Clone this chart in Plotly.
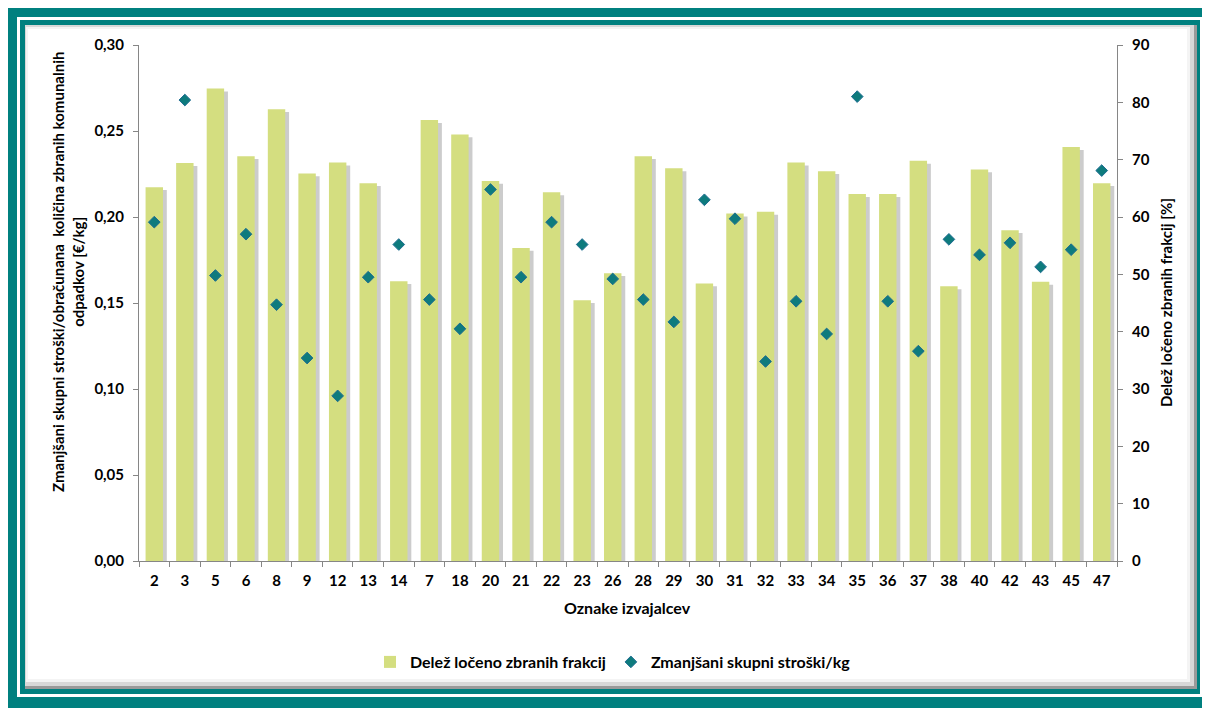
import plotly.graph_objects as go

## DATA
izvajalci = ["2", "3", "5", "6", "8", "9", "12", "13", "14", "7", "18", "20", "21", "22", "23", "26",
             "28", "29", "30", "31", "32", "33", "34", "35", "36", "37", "38", "40", "42", "43", "45", "47"]
delez = [65.2, 69.4, 82.4, 70.6, 78.8, 67.6, 69.5, 65.9, 48.8, 76.9, 74.4, 66.3, 54.6, 64.3, 45.5, 50.2,
         70.6, 68.5, 48.4, 60.6, 60.9, 69.5, 68.0, 64.0, 64.0, 69.8, 47.9, 68.3, 57.7, 48.7, 72.2, 65.9]
stroski = [0.197, 0.268, 0.166, 0.190, 0.149, 0.118, 0.096, 0.165, 0.184, 0.152, 0.135, 0.216, 0.165, 0.197,
           0.184, 0.164, 0.152, 0.139, 0.210, 0.199, 0.116, 0.151, 0.132, 0.270, 0.151, 0.122, 0.187, 0.178,
           0.185, 0.171, 0.181, 0.227]

## LAYOUT CONSTANTS
# the page body has an 8px margin, so the figure is 8px smaller than the window
BODY = 8
W, H = 1210 - BODY, 711 - BODY
ML, MT = 139 - BODY, 45 - BODY
plot_w, plot_h = 978, 516
MR, MB = W - ML - plot_w, H - MT - plot_h
TEAL = "#00807f"
GREEN = "#d4de80"
DIAMOND = "#0e7b7d"
AXIS = "#868686"
FONT = "Lato"

def px(x):  # window pixel -> paper x
    return (x - BODY - ML) / plot_w

def py(y):  # window pixel -> paper y
    return (H - MB - (y - BODY)) / plot_h

fig = go.Figure()

# soft shadow to the right of each bar
fig.add_trace(go.Bar(x=izvajalci, y=[v - 0.5 for v in delez], yaxis="y",
                     width=0.57, offset=-0.16, marker=dict(color="rgba(110,110,110,0.35)", line_width=0),
                     showlegend=False, hoverinfo="skip"))
fig.add_trace(go.Bar(x=izvajalci, y=delez, yaxis="y", name="Delež ločeno zbranih frakcij",
                     width=0.57, offset=-0.285, marker=dict(color=GREEN, line_width=0)))
fig.add_trace(go.Scatter(x=izvajalci, y=stroski, yaxis="y2", mode="markers",
                         name="Zmanjšani skupni stroški/kg",
                         marker=dict(symbol="diamond", size=9, color=DIAMOND,
                                     line=dict(color="#1f6d92", width=1))))

tickfont = dict(family=FONT, size=15, color="#000000", weight="bold")
titlefont = dict(family=FONT, size=15, color="#000000", weight="bold")

## FRAME
shapes = [
    dict(type="rect", xref="paper", yref="paper", x0=px(7), x1=px(1212), y0=py(708), y1=py(6),
         fillcolor=TEAL, line_width=0, layer="below"),
    dict(type="rect", xref="paper", yref="paper", x0=px(17), x1=px(1203), y0=py(697), y1=py(17),
         fillcolor="white", line_width=0, layer="below"),
    dict(type="rect", xref="paper", yref="paper", x0=px(20), x1=px(1200), y0=py(694), y1=py(20),
         fillcolor=TEAL, line_width=0, layer="below"),
    dict(type="rect", xref="paper", yref="paper", x0=px(25), x1=px(1197), y0=py(689), y1=py(25),
         fillcolor="#9a9a9a", line_width=0, layer="below"),
    dict(type="rect", xref="paper", yref="paper", x0=px(25), x1=px(1194), y0=py(686), y1=py(25),
         fillcolor="#d8d8d8", line_width=0, layer="below"),
    dict(type="rect", xref="paper", yref="paper", x0=px(26), x1=px(1190), y0=py(682), y1=py(27),
         fillcolor="#f4f4f4", line_width=0, layer="below"),
    dict(type="rect", xref="paper", yref="paper", x0=px(28), x1=px(1187), y0=py(679), y1=py(29),
         fillcolor="white", line_width=0, layer="below"),
]

annotations = [
    dict(text="Zmanjšani skupni stroški/obračunana  količina zbranih komunalnih<br>odpadkov [€/kg]",
         xref="paper", yref="paper", x=px(68), y=py(272), xanchor="center", yanchor="middle",
         textangle=-90, showarrow=False, font=titlefont, align="center"),
    dict(text="Delež ločeno zbranih frakcij [%]", xref="paper", yref="paper", x=px(1166), y=py(303),
         xanchor="center", yanchor="middle", textangle=-90, showarrow=False, font=titlefont),
    dict(text="Oznake izvajalcev", xref="paper", yref="paper", x=px(627), y=py(607),
         xanchor="center", yanchor="middle", showarrow=False,
         font=dict(family=FONT, size=16, color="#000000", weight="bold")),
]

fig.update_layout(
    width=W, height=H,
    margin=dict(l=ML, r=MR, t=MT, b=MB, pad=0),
    paper_bgcolor="white", plot_bgcolor="rgba(0,0,0,0)",
    separators=", ",
    barmode="overlay",
    shapes=shapes,
    annotations=annotations,
    xaxis=dict(type="category", range=[-0.5, len(izvajalci) - 0.5], showline=True, linecolor=AXIS,
               linewidth=1, ticks="outside", tickson="boundaries", ticklen=5, tickcolor=AXIS,
               tickfont=tickfont, ticklabelstandoff=6, showgrid=False, zeroline=False),
    yaxis=dict(side="right", range=[0, 90], dtick=10, showline=True, linecolor=AXIS, linewidth=1,
               ticks="outside", ticklen=5, tickcolor=AXIS, tickfont=tickfont, ticklabelstandoff=6,
               showgrid=False, zeroline=False),
    yaxis2=dict(side="left", overlaying="y", range=[0, 0.30], dtick=0.05, tickformat=".2f",
                showline=True, linecolor=AXIS, linewidth=1, ticks="outside", ticklen=5,
                tickcolor=AXIS, tickfont=tickfont, ticklabelstandoff=6, showgrid=False, zeroline=False),
    legend=dict(orientation="h", x=px(613), y=py(662), xanchor="center", yanchor="middle",
                font=dict(family=FONT, size=16, color="#000000", weight="bold"),
                bgcolor="rgba(0,0,0,0)"),
)

fig.write_html("out.html")
